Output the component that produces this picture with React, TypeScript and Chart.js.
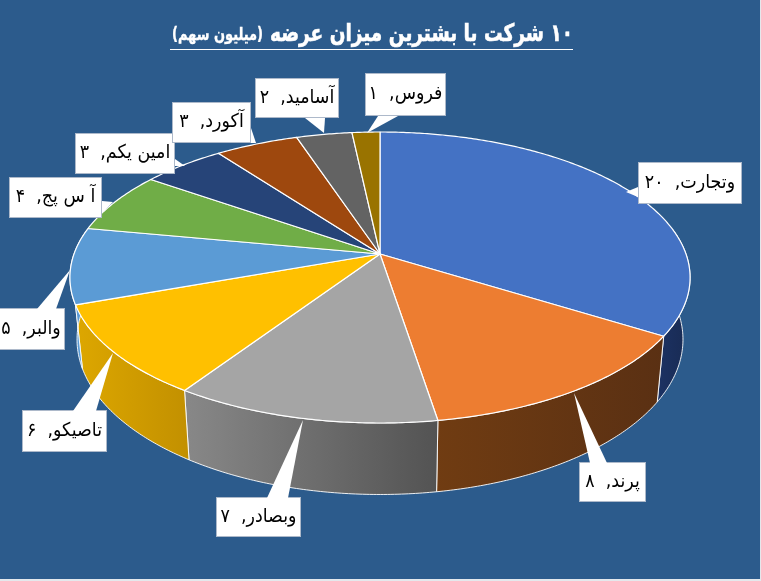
import { useEffect, useRef } from 'react';
import { Chart, registerables } from 'chart.js';

Chart.register(...registerables);

const companies = ['وتجارت', 'پرند', 'وبصادر', 'تاصیکو', 'والبر', 'آ س پج', 'امین یکم', 'آکورد', 'آسامید', 'فروس'];
const shares = [20, 8, 7, 6, 5, 4, 3, 3, 2, 1];
const titleMain = '۱۰ شرکت با بشترین میزان عرضه';
const titleUnit = '(میلیون سهم)';

const sliceColors = ['#4472C4', '#ED7D31', '#A5A5A5', '#FFC000', '#5B9BD5', '#70AD47', '#264478', '#9E480E', '#636363', '#997300'];
// side wall gradient, left to right
const wallColors = [
  ['#1c3263', '#182a52'],
  ['#703c12', '#5a3013'],
  ['#888888', '#535353'],
  ['#dda700', '#c29000'],
  ['#5b9bd5', '#5b9bd5'],
];

// callout boxes: x, y, w, h, tip of the pointer, two base points of the pointer
const callouts = [
  { box: [638, 162, 104, 42], tip: [626, 192], base: [[638, 187], [638, 197]] },
  { box: [579, 462, 67, 40], tip: [574, 393], base: [[590, 462], [607, 462]] },
  { box: [216, 497, 85, 40], tip: [303, 420], base: [[267, 497], [288, 497]] },
  { box: [22, 410, 85, 42], tip: [113, 353], base: [[73, 410], [96, 410]] },
  { box: [-3, 308, 68, 42], tip: [70, 270], base: [[37, 308], [56, 308]] },
  { box: [9, 177, 93, 41], tip: [113, 202], base: [[102, 201], [102, 213]] },
  { box: [75, 133, 100, 41], tip: [185, 166], base: [[175, 159], [175, 166]] },
  { box: [172, 102, 79, 41], tip: [256, 143], base: [[251, 128], [251, 143]] },
  { box: [255, 78, 84, 40], tip: [324, 133], base: [[305, 118], [325, 118]] },
  { box: [365, 73, 81, 43], tip: [367, 133], base: [[378, 116], [398, 116]] },
];

const PAGE_BG = '#2C5B8C';
const CX = 380;
const K = 0.1615; // perspective of the tilted disc

// top face and bottom rim of the tilted pie
const project = (angle: number, bottom: boolean): [number, number] => {
  const u = Math.cos(angle);
  const v = Math.sin(angle);
  const d = 1 - K * v;
  if (bottom) return [CX + (299 * u) / d, 314.4 + (151 * v) / d];
  return [CX + (306 * u) / d, 254 + (141.7 * v) / d];
};

const rimPoints = (from: number, to: number, bottom: boolean) => {
  const pts: [number, number][] = [];
  const steps = Math.max(2, Math.ceil(Math.abs(to - from) / 0.01));
  for (let i = 0; i <= steps; i++) pts.push(project(from + ((to - from) * i) / steps, bottom));
  return pts;
};

const toPersian = (n: number) => String(n).replace(/\d/g, (d) => '۰۱۲۳۴۵۶۷۸۹'[Number(d)]);

const pie3d = {
  id: 'pie3d',
  beforeDraw(chart: Chart) {
    const { ctx, width, height } = chart;
    ctx.save();
    ctx.fillStyle = PAGE_BG;
    ctx.fillRect(0, 0, width, height);
    ctx.fillStyle = '#E4E8EC';
    ctx.fillRect(width - 1, 0, 1, height);
    ctx.fillRect(0, height - 2, width, 2);
    ctx.restore();
  },
  beforeDatasetsDraw(chart: Chart) {
    const { ctx } = chart;
    const arcs = chart.getDatasetMeta(0).data as any[];
    ctx.save();
    ctx.lineJoin = 'round';

    // side walls, only the part facing the viewer
    const wallFrom = -0.18;
    const wallTo = Math.PI + 0.18;
    arcs.forEach((arc, i) => {
      const from = Math.max(arc.startAngle, wallFrom);
      const to = Math.min(arc.endAngle, wallTo);
      if (to <= from || !wallColors[i]) return;
      const top = rimPoints(from, to, false);
      const low = rimPoints(from, to, true).reverse();
      const xs = [...top, ...low].map((p) => p[0]);
      const grad = ctx.createLinearGradient(Math.min(...xs), 0, Math.max(...xs), 0);
      grad.addColorStop(0, wallColors[i][0]);
      grad.addColorStop(1, wallColors[i][1]);
      ctx.beginPath();
      [...top, ...low].forEach((p, n) => (n ? ctx.lineTo(p[0], p[1]) : ctx.moveTo(p[0], p[1])));
      ctx.closePath();
      ctx.fillStyle = grad;
      ctx.fill();
      ctx.strokeStyle = 'rgba(255,255,255,0.9)';
      ctx.lineWidth = 1;
      ctx.stroke();
    });

    // top face
    arcs.forEach((arc, i) => {
      ctx.beginPath();
      ctx.moveTo(CX, 254);
      rimPoints(arc.startAngle, arc.endAngle, false).forEach((p) => ctx.lineTo(p[0], p[1]));
      ctx.closePath();
      ctx.fillStyle = sliceColors[i];
      ctx.fill();
      ctx.strokeStyle = '#FFFFFF';
      ctx.lineWidth = 1.2;
      ctx.stroke();
    });
    ctx.restore();

    drawCallouts(ctx);
    drawTitle(ctx);
    return false;
  },
};

function drawCallouts(ctx: CanvasRenderingContext2D) {
  ctx.save();
  ctx.textBaseline = 'middle';
  ctx.textAlign = 'center';
  ctx.direction = 'rtl';
  callouts.forEach((c, i) => {
    const [x, y, w, h] = c.box;
    ctx.fillStyle = '#FFFFFF';
    ctx.strokeStyle = '#ADB9CA';
    ctx.lineWidth = 1;
    ctx.fillRect(x, y, w, h);
    ctx.strokeRect(x + 0.5, y + 0.5, w - 1, h - 1);
    ctx.beginPath();
    ctx.moveTo(c.base[0][0], c.base[0][1] + (c.base[0][1] === y ? 1 : 0));
    ctx.lineTo(c.tip[0], c.tip[1]);
    ctx.lineTo(c.base[1][0], c.base[1][1] + (c.base[1][1] === y ? 1 : 0));
    ctx.closePath();
    ctx.fill();
    ctx.save();
    ctx.translate(x + w / 2, y + h / 2);
    ctx.scale(0.92, 1);
    ctx.font = '19px "DejaVu Sans"';
    ctx.fillStyle = '#000000';
    ctx.fillText(`${companies[i]},  ${toPersian(shares[i])}`, 0, 0);
    ctx.restore();
  });
  ctx.restore();
}

function drawTitle(ctx: CanvasRenderingContext2D) {
  ctx.save();
  ctx.fillStyle = '#FFFFFF';
  ctx.strokeStyle = '#FFFFFF';
  ctx.fillRect(170, 49, 403, 1);
  ctx.textBaseline = 'alphabetic';
  ctx.direction = 'rtl';
  ctx.textAlign = 'right';

  ctx.save();
  ctx.font = 'bold 24px "DejaVu Sans"';
  const mainScale = 303 / ctx.measureText(titleMain).width;
  ctx.translate(573, 41);
  ctx.scale(mainScale, 1);
  ctx.lineWidth = 0.6;
  ctx.strokeText(titleMain, 0, 0);
  ctx.fillText(titleMain, 0, 0);
  ctx.restore();

  ctx.save();
  ctx.font = 'bold 17px "DejaVu Sans"';
  const unitScale = 91 / ctx.measureText(titleUnit).width;
  ctx.translate(263, 40);
  ctx.scale(unitScale, 1);
  ctx.lineWidth = 0.4;
  ctx.strokeText(titleUnit, 0, 0);
  ctx.fillText(titleUnit, 0, 0);
  ctx.restore();

  ctx.restore();
}

export default function App() {
  const canvasRef = useRef<HTMLCanvasElement>(null);

  useEffect(() => {
    document.body.style.margin = '0';
    const ctx = canvasRef.current?.getContext('2d');
    if (!ctx) return;
    const chart = new Chart(ctx, {
      type: 'pie',
      data: {
        labels: companies,
        datasets: [{ data: shares, backgroundColor: sliceColors, borderColor: '#FFFFFF' }],
      },
      options: {
        responsive: false,
        animation: false,
        plugins: { legend: { display: false }, tooltip: { enabled: false } },
      },
      plugins: [pie3d as any],
    });
    return () => chart.destroy();
  }, []);

  return <canvas ref={canvasRef} width={761} height={581} style={{ display: 'block' }} />;
}
